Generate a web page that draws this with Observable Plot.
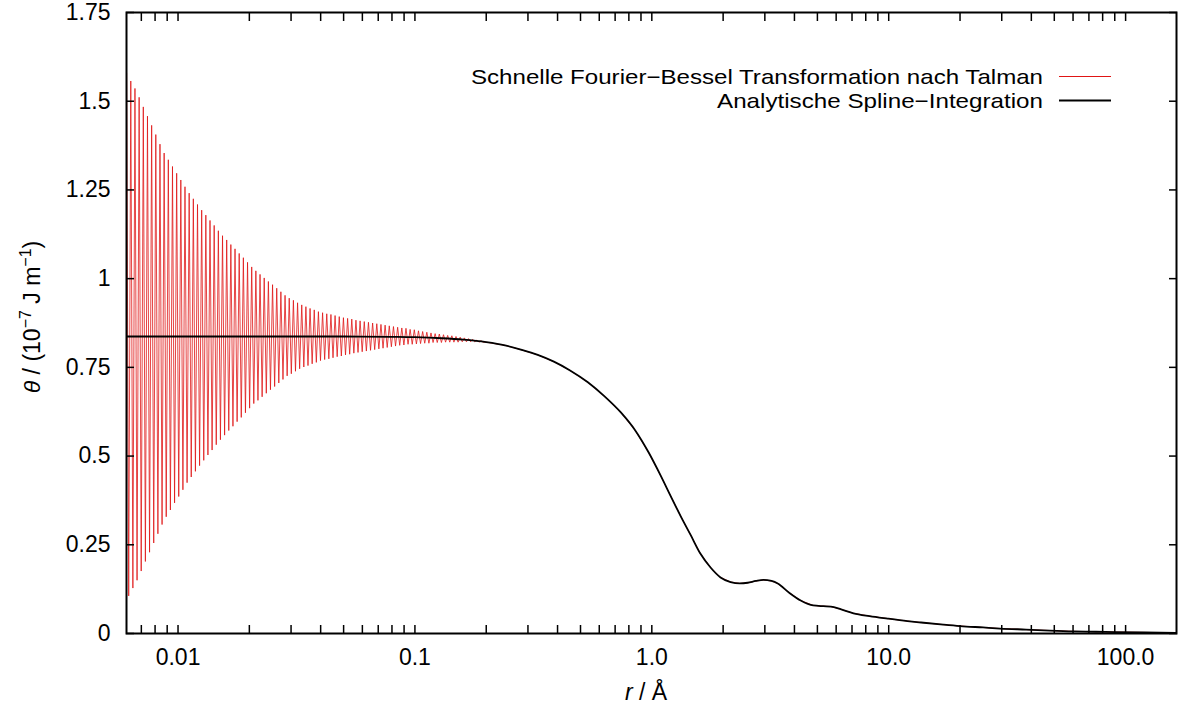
<!DOCTYPE html>
<html><head><meta charset="utf-8">
<script src="https://cdn.jsdelivr.net/npm/d3@7"></script>
<script src="https://cdn.jsdelivr.net/npm/@observablehq/plot@0.6"></script>
<style>
html,body{margin:0;padding:0;background:#fff;}
#chart{width:1181px;height:708px;}
</style></head><body><div id="chart"></div>
<script>
// ---- series names ----
const seriesNames = ["Schnelle Fourier\u2212Bessel Transformation nach Talman", "Analytische Spline\u2212Integration"];
const seriesColors = ["#e01515", "#000000"];

// ---- Talman transform: log-uniform sampling grid (log10 r) and read-off values ----
const talmanLog10Start = -2.217;
const talmanLog10Step = 0.0088;
const talmanValues = [
  1.579, 0.106, 1.557, 0.128, 1.536, 0.150, 1.511, 0.176, 1.484, 0.203,
  1.458, 0.229, 1.432, 0.255, 1.406, 0.281, 1.379, 0.307, 1.354, 0.329,
  1.335, 0.348, 1.316, 0.368, 1.297, 0.386, 1.278, 0.405, 1.259, 0.425,
  1.241, 0.441, 1.225, 0.457, 1.209, 0.473, 1.193, 0.488, 1.179, 0.503,
  1.164, 0.517, 1.150, 0.532, 1.135, 0.546, 1.121, 0.559, 1.109, 0.572,
  1.096, 0.584, 1.084, 0.597, 1.071, 0.609, 1.059, 0.622, 1.046, 0.635,
  1.033, 0.648, 1.022, 0.657, 1.012, 0.667, 1.002, 0.677, 0.992, 0.687,
  0.983, 0.696, 0.973, 0.706, 0.963, 0.716, 0.953, 0.726, 0.945, 0.732,
  0.939, 0.739, 0.932, 0.746, 0.926, 0.751, 0.921, 0.755, 0.916, 0.760,
  0.912, 0.764, 0.907, 0.769, 0.904, 0.772, 0.901, 0.774, 0.899, 0.777,
  0.896, 0.780, 0.893, 0.782, 0.890, 0.785, 0.888, 0.787, 0.886, 0.790,
  0.883, 0.792, 0.881, 0.794, 0.879, 0.796, 0.877, 0.798, 0.875, 0.800,
  0.873, 0.802, 0.871, 0.804, 0.869, 0.806, 0.867, 0.808, 0.865, 0.810,
  0.863, 0.812, 0.861, 0.813, 0.860, 0.815, 0.857, 0.815, 0.856, 0.816,
  0.853, 0.817, 0.851, 0.818, 0.849, 0.818, 0.847, 0.820, 0.845, 0.820,
  0.844, 0.820, 0.842, 0.821, 0.840, 0.821, 0.839, 0.821, 0.837, 0.821,
  0.835, 0.822, 0.833, 0.822, 0.831, 0.822, 0.829, 0.822, 0.827, 0.821,
  0.825, 0.821
];

// ---- analytic spline integration ----
const splineR = [0.00606, 0.02, 0.05, 0.08, 0.1, 0.13, 0.16, 0.2, 0.24, 0.28, 0.33, 0.386, 0.45, 0.537, 0.63, 0.74, 0.85, 0.97, 1.09, 1.2, 1.33, 1.46, 1.6, 1.77, 1.95, 2.15, 2.35, 2.54, 2.75, 2.96, 3.2, 3.4, 3.8, 4.25, 4.8, 5.3, 5.7, 6.3, 7.1, 8.3, 9.9, 12, 13.7, 17, 20, 25, 29.5, 38, 45, 60, 75, 90, 120, 164];
const splineV = [0.837, 0.837, 0.837, 0.836, 0.835, 0.832, 0.828, 0.821, 0.812, 0.800, 0.785, 0.766, 0.742, 0.708, 0.669, 0.623, 0.573, 0.510, 0.445, 0.388, 0.328, 0.277, 0.226, 0.186, 0.158, 0.145, 0.141, 0.143, 0.148, 0.151, 0.148, 0.141, 0.115, 0.093, 0.079, 0.077, 0.076, 0.068, 0.057, 0.049, 0.042, 0.035, 0.031, 0.025, 0.021, 0.017, 0.014, 0.011, 0.009, 0.006, 0.005, 0.004, 0.003, 0.002];

// ---- ticks ----
const xTickValues = [0.007, 0.008, 0.009,
  0.01, 0.02, 0.03, 0.04, 0.05, 0.06, 0.07, 0.08, 0.09,
  0.1, 0.2, 0.3, 0.4, 0.5, 0.6, 0.7, 0.8, 0.9,
  1, 2, 3, 4, 5, 6, 7, 8, 9,
  10, 20, 30, 40, 50, 60, 70, 80, 90,
  100];
const xLabelValues = [0.01, 0.1, 1, 10, 100];
const xLabelTexts = ["0.01", "0.1", "1.0", "10.0", "100.0"];
const yTickValues = [0, 0.25, 0.5, 0.75, 1, 1.25, 1.5, 1.75];
const yTickTexts = ["0", "0.25", "0.5", "0.75", "1", "1.25", "1.5", "1.75"];
const xDomain = [0.00606, 164];
const yDomain = [0, 1.75];

// ---- build tables ----
const talman = talmanValues.map((v, i) => ({r: Math.pow(10, talmanLog10Start + i * talmanLog10Step), v}));
const lastTalmanR = talman[talman.length - 1].r;
splineR.forEach((r, i) => { if (r > lastTalmanR) talman.push({r, v: splineV[i]}); });
const spline = splineR.map((r, i) => ({r, v: splineV[i]}));

const FONT = "'Liberation Sans', Arial, Helvetica, sans-serif";
const noText = () => "";

const svg = Plot.plot({
  width: 1181, height: 708,
  marginLeft: 126, marginRight: 5, marginTop: 12, marginBottom: 75,
  style: {fontFamily: FONT, fontSize: "23px", color: "black", background: "white", overflow: "visible"},
  x: {type: "log", domain: xDomain},
  y: {domain: yDomain},
  marks: [
    Plot.line(talman, {x: "r", y: "v", stroke: seriesColors[0], strokeWidth: 0.8, clip: true}),
    Plot.line(spline, {x: "r", y: "v", stroke: seriesColors[1], strokeWidth: 1.8, curve: "monotone-x", clip: true}),
    Plot.axisX({anchor: "bottom", ticks: xTickValues, tickSize: -8, tickFormat: noText, label: null, strokeWidth: 1.5}),
    Plot.axisX({anchor: "top", ticks: xTickValues, tickSize: -8, tickFormat: noText, label: null, strokeWidth: 1.5}),
    Plot.axisX({anchor: "bottom", ticks: xLabelValues, tickSize: 0, tickPadding: 15,
      tickFormat: d => xLabelTexts[xLabelValues.indexOf(d)], label: null}),
    Plot.axisY({anchor: "left", ticks: yTickValues, tickSize: -8, tickFormat: noText, label: null, strokeWidth: 1.5}),
    Plot.axisY({anchor: "right", ticks: yTickValues, tickSize: -8, tickFormat: noText, label: null, strokeWidth: 1.5}),
    Plot.axisY({anchor: "left", ticks: yTickValues, tickSize: 0, tickPadding: 16,
      tickFormat: d => yTickTexts[yTickValues.indexOf(d)], label: null}),
    Plot.frame({stroke: "black", strokeWidth: 2})
  ]
});
document.getElementById("chart").append(svg);

const s = d3.select(svg);
// x axis title
const xt = s.append("text").attr("x", 646).attr("y", 700).attr("text-anchor", "middle")
  .attr("font-family", FONT).attr("font-size", 23).attr("fill", "black");
xt.append("tspan").attr("font-style", "italic").text("r");
xt.append("tspan").text(" / \u00C5");

// y axis title
const yt = s.append("text").attr("transform", "translate(40,317) rotate(-90)").attr("text-anchor", "middle")
  .attr("font-family", FONT).attr("font-size", 23).attr("fill", "black");
yt.append("tspan").attr("font-style", "italic").text("\u03B8");
yt.append("tspan").text(" / (10");
yt.append("tspan").attr("dy", -9).attr("font-size", 16).text("\u22127");
yt.append("tspan").attr("dy", 9).text(" J m");
yt.append("tspan").attr("dy", -9).attr("font-size", 16).text("\u22121");
yt.append("tspan").attr("dy", 9).text(")");

// legend
const legendRows = [76, 100];
const legendTextLengths = [572, 326];
seriesNames.forEach((name, i) => {
  const y = legendRows[i];
  s.append("text").attr("x", 1043).attr("y", y + 7.5).attr("text-anchor", "end")
    .attr("font-family", FONT).attr("font-size", 21).attr("fill", "black")
    .attr("textLength", legendTextLengths[i]).attr("lengthAdjust", "spacingAndGlyphs").text(name);
  s.append("line").attr("x1", 1059).attr("x2", 1111).attr("y1", y + 0.5).attr("y2", y + 0.5)
    .attr("stroke", seriesColors[i]).attr("stroke-width", i === 0 ? 1 : 1.8);
});
</script></body></html>
